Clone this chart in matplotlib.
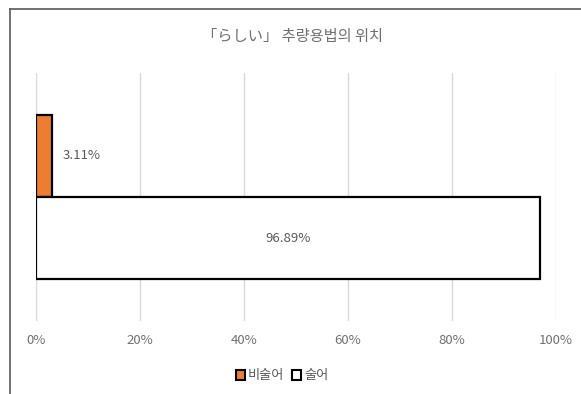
import matplotlib.pyplot as plt
from matplotlib.lines import Line2D
from matplotlib.patches import Patch
from matplotlib.ticker import PercentFormatter

plt.rcParams['font.family'] = ['Noto Sans CJK KR', 'DejaVu Sans']

# data
series = ['비술어', '술어']
values = [3.11, 96.89]
colors = ['#ED7D31', '#FFFFFF']
title = '「らしい」 추량용법의 위치'
ticks = [0, 20, 40, 60, 80, 100]

W, H = 581, 394
fig = plt.figure(figsize=(W / 100, H / 100), dpi=100)
# axes in pixel units: x 36..556, y 73..321
ax = fig.add_axes([36 / W, 1 - 321 / H, 520 / W, 248 / H])

ypos = [0.1655, -0.1655]
bh = 82 / 248
for v, c, y in zip(values, colors, ypos):
    ax.barh(y, v, height=bh, color=c, edgecolor='black', linewidth=1.6, zorder=3)

# data labels
ax.text(values[0] + 2.1, ypos[0], f'{values[0]:.2f}%', va='center', ha='left',
        fontsize=9.5, color='#595959')
ax.text(values[1] / 2, ypos[1], f'{values[1]:.2f}%', va='center', ha='center',
        fontsize=9.5, color='#595959')

ax.set_xlim(0, 100)
ax.set_ylim(-0.5, 0.5)
ax.set_xticks(ticks)
ax.xaxis.set_major_formatter(PercentFormatter(decimals=0))
ax.set_yticks([])
ax.grid(axis='x', color='#D9D9D9', linewidth=1)
ax.tick_params(axis='x', length=0, labelsize=9.5, labelcolor='#707070', pad=9)
for s in ax.spines.values():
    s.set_visible(False)

fig.text(292 / W, 1 - 37 / H, title, ha='center', va='center', fontsize=11,
         color='#707070')

handles = [Patch(facecolor=c, edgecolor='black', linewidth=1.5) for c in colors]
fig.legend(handles, series, loc='center', bbox_to_anchor=(282 / W, 1 - 376 / H),
           ncol=2, frameon=False, fontsize=9.5, handlelength=0.7, handleheight=0.7,
           handletextpad=0.2, columnspacing=0.6, labelcolor='#595959')

# chart frame lines (top and left)
fig.add_artist(Line2D([10 / W, 1], [1 - 9 / H, 1 - 9 / H], color='#595959', linewidth=1.2))
fig.add_artist(Line2D([10 / W, 10 / W], [0, 1 - 9 / H], color='#595959', linewidth=1.2))

fig.savefig('out.png', dpi=100)
